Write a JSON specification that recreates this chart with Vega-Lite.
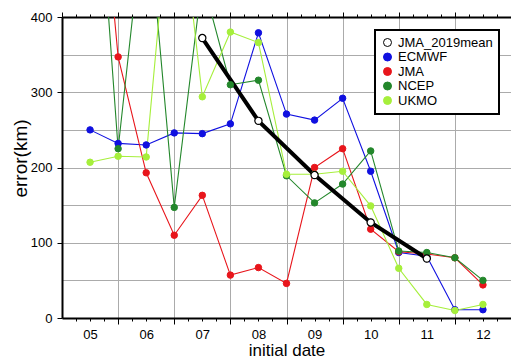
{
  "$schema": "https://vega.github.io/schema/vega-lite/v6.json",
  "width": 449,
  "height": 301,
  "autosize": {"type": "none"},
  "padding": {"left": 62, "top": 17, "right": 0, "bottom": 40},
  "background": "white",
  "data": {"values": [
    {"series": "ECMWF", "x": 5, "v": 250}, {"series": "ECMWF", "x": 5.5, "v": 232}, {"series": "ECMWF", "x": 6, "v": 230},
    {"series": "ECMWF", "x": 6.5, "v": 246}, {"series": "ECMWF", "x": 7, "v": 245}, {"series": "ECMWF", "x": 7.5, "v": 258},
    {"series": "ECMWF", "x": 8, "v": 379}, {"series": "ECMWF", "x": 8.5, "v": 271}, {"series": "ECMWF", "x": 9, "v": 263},
    {"series": "ECMWF", "x": 9.5, "v": 292}, {"series": "ECMWF", "x": 10, "v": 195}, {"series": "ECMWF", "x": 10.5, "v": 87},
    {"series": "ECMWF", "x": 11, "v": 82}, {"series": "ECMWF", "x": 11.5, "v": 11}, {"series": "ECMWF", "x": 12, "v": 11},
    {"series": "JMA", "x": 5, "v": 750}, {"series": "JMA", "x": 5.5, "v": 347}, {"series": "JMA", "x": 6, "v": 193},
    {"series": "JMA", "x": 6.5, "v": 110}, {"series": "JMA", "x": 7, "v": 163}, {"series": "JMA", "x": 7.5, "v": 57},
    {"series": "JMA", "x": 8, "v": 67}, {"series": "JMA", "x": 8.5, "v": 46}, {"series": "JMA", "x": 9, "v": 200},
    {"series": "JMA", "x": 9.5, "v": 225}, {"series": "JMA", "x": 10, "v": 118}, {"series": "JMA", "x": 10.5, "v": 88},
    {"series": "JMA", "x": 11, "v": 85}, {"series": "JMA", "x": 11.5, "v": 80}, {"series": "JMA", "x": 12, "v": 44},
    {"series": "NCEP", "x": 5, "v": 740}, {"series": "NCEP", "x": 5.5, "v": 225}, {"series": "NCEP", "x": 6, "v": 565},
    {"series": "NCEP", "x": 6.5, "v": 147}, {"series": "NCEP", "x": 7, "v": 450}, {"series": "NCEP", "x": 7.5, "v": 310},
    {"series": "NCEP", "x": 8, "v": 316}, {"series": "NCEP", "x": 8.5, "v": 189}, {"series": "NCEP", "x": 9, "v": 153},
    {"series": "NCEP", "x": 9.5, "v": 178}, {"series": "NCEP", "x": 10, "v": 222}, {"series": "NCEP", "x": 10.5, "v": 89},
    {"series": "NCEP", "x": 11, "v": 87}, {"series": "NCEP", "x": 11.5, "v": 80}, {"series": "NCEP", "x": 12, "v": 50},
    {"series": "UKMO", "x": 5, "v": 207}, {"series": "UKMO", "x": 5.5, "v": 215}, {"series": "UKMO", "x": 6, "v": 214},
    {"series": "UKMO", "x": 6.5, "v": 620}, {"series": "UKMO", "x": 7, "v": 294}, {"series": "UKMO", "x": 7.5, "v": 380},
    {"series": "UKMO", "x": 8, "v": 366}, {"series": "UKMO", "x": 8.5, "v": 191}, {"series": "UKMO", "x": 9, "v": 191},
    {"series": "UKMO", "x": 9.5, "v": 195}, {"series": "UKMO", "x": 10, "v": 149}, {"series": "UKMO", "x": 10.5, "v": 66},
    {"series": "UKMO", "x": 11, "v": 18}, {"series": "UKMO", "x": 11.5, "v": 10}, {"series": "UKMO", "x": 12, "v": 18},
    {"series": "JMA_2019mean", "x": 7, "v": 372}, {"series": "JMA_2019mean", "x": 8, "v": 262},
    {"series": "JMA_2019mean", "x": 9, "v": 190}, {"series": "JMA_2019mean", "x": 10, "v": 127},
    {"series": "JMA_2019mean", "x": 11, "v": 79}
  ]},
  "resolve": {"axis": {"x": "independent", "y": "independent"}},
  "layer": [
    {
      "transform": [{"filter": "datum.series === 'ECMWF' || datum.series === 'JMA'"}],
      "mark": {"type": "line", "strokeWidth": 1.1, "clip": true},
      "encoding": {
        "x": {"field": "x", "type": "quantitative", "scale": {"domain": [4.5, 12.5], "nice": false, "zero": false},
          "axis": {"orient": "bottom", "values": [5.5, 6.5, 7.5, 8.5, 9.5, 10.5, 11.5, 12.5], "grid": true, "gridColor": "#ababab", "gridWidth": 1,
            "tickSize": 6, "tickColor": "black", "labels": false, "domain": true, "domainColor": "black", "domainWidth": 2,
            "title": "initial date", "titleFontSize": 17, "titleFontWeight": "normal", "titleColor": "black", "titleBaseline": "alphabetic", "titleY": 37}},
        "y": {"field": "v", "type": "quantitative", "scale": {"domain": [0, 400], "nice": false},
          "axis": {"values": [0, 100, 200, 300, 400], "grid": false, "tickSize": 5, "tickColor": "black", "labelFontSize": 13, "labelColor": "black",
            "labelPadding": 5, "domain": true, "domainColor": "black", "domainWidth": 2,
            "title": "error(km)", "titleFontSize": 19, "titleFontWeight": "normal", "titleColor": "black", "titleBaseline": "middle", "titleX": -42, "titleY": 141}},
        "color": {"field": "series", "type": "nominal",
          "scale": {"domain": ["ECMWF", "JMA", "NCEP", "UKMO"], "range": ["#1010e0", "#e8151b", "#23872b", "#a6ef3b"]},
          "legend": null}
      }
    },
    {
      "transform": [{"filter": "datum.series === 'NCEP' || datum.series === 'UKMO'"}],
      "mark": {"type": "line", "strokeWidth": 1.1, "clip": true},
      "encoding": {
        "x": {"field": "x", "type": "quantitative",
          "axis": {"orient": "top", "values": [4.75, 5, 5.25, 5.75, 6, 6.25, 6.75, 7, 7.25, 7.75, 8, 8.25, 8.75, 9, 9.25, 9.75, 10, 10.25, 10.75, 11, 11.25, 11.75, 12, 12.25],
            "grid": false, "tickSize": 3, "tickColor": "black", "labels": false, "domain": false, "title": null}},
        "y": {"field": "v", "type": "quantitative",
          "axis": {"values": [0, 50, 100, 150, 200, 250, 300, 350, 400], "grid": true, "gridColor": "#ababab", "gridWidth": 1, "ticks": false, "labels": false, "domain": false, "title": null}},
        "color": {"field": "series", "type": "nominal", "legend": null}
      }
    },
    {
      "transform": [{"filter": "datum.series === 'JMA_2019mean'"}],
      "mark": {"type": "line", "strokeWidth": 4, "stroke": "black", "clip": true},
      "encoding": {
        "x": {"field": "x", "type": "quantitative",
          "axis": {"orient": "bottom", "values": [4.75, 5, 5.25, 5.75, 6, 6.25, 6.75, 7, 7.25, 7.75, 8, 8.25, 8.75, 9, 9.25, 9.75, 10, 10.25, 10.75, 11, 11.25, 11.75, 12, 12.25],
            "grid": false, "tickSize": 3, "tickColor": "black", "labels": false, "domain": false, "title": null}},
        "y": {"field": "v", "type": "quantitative", "axis": null}
      }
    },
    {
      "mark": {"type": "point", "filled": true, "size": 42, "strokeWidth": 1, "opacity": 1, "clip": true},
      "encoding": {
        "x": {"field": "x", "type": "quantitative",
          "axis": {"orient": "bottom", "values": [5, 6, 7, 8, 9, 10, 11, 12], "format": "02d", "ticks": false, "tickSize": 0, "labelFontSize": 13, "labelColor": "black",
            "labelBaseline": "alphabetic", "labelPadding": 20, "domain": false, "grid": false, "title": null}},
        "y": {"field": "v", "type": "quantitative", "axis": null},
        "fill": {"field": "series", "type": "nominal",
          "scale": {"domain": ["JMA_2019mean", "ECMWF", "JMA", "NCEP", "UKMO"], "range": ["#ffffff", "#1010e0", "#e8151b", "#23872b", "#a6ef3b"]},
          "legend": {"title": null, "orient": "none", "legendX": 313, "legendY": 13, "symbolType": "circle", "symbolSize": 64, "symbolStrokeWidth": 1,
            "labelFontSize": 13, "labelColor": "black", "labelOffset": 4, "padding": 6, "rowPadding": 0.5, "strokeColor": "black", "fillColor": "white"}},
        "stroke": {"field": "series", "type": "nominal",
          "scale": {"domain": ["JMA_2019mean", "ECMWF", "JMA", "NCEP", "UKMO"], "range": ["#000000", "#1010e0", "#e8151b", "#23872b", "#a6ef3b"]},
          "legend": {"title": null, "orient": "none", "legendX": 313, "legendY": 13, "symbolType": "circle", "symbolSize": 64, "symbolStrokeWidth": 1,
            "labelFontSize": 13, "labelColor": "black", "labelOffset": 4, "padding": 6, "rowPadding": 0.5, "strokeColor": "black", "fillColor": "white"}}
      }
    },
    {
      "transform": [{"filter": "datum.series === 'JMA_2019mean'"}],
      "mark": {"type": "point", "filled": true, "size": 52, "strokeWidth": 1.2, "fill": "white", "stroke": "black", "opacity": 1, "clip": true},
      "encoding": {
        "x": {"field": "x", "type": "quantitative",
          "axis": {"orient": "top", "values": [4.5, 5.5, 6.5, 7.5, 8.5, 9.5, 10.5, 11.5, 12.5], "grid": false, "tickSize": 5, "tickColor": "black",
            "labels": false, "domain": true, "domainColor": "black", "domainWidth": 2, "title": null}},
        "y": {"field": "v", "type": "quantitative", "axis": null}
      }
    }
  ],
  "config": {
    "font": "Liberation Sans",
    "view": {"stroke": null},
    "legend": {"strokeWidth": 2}
  }
}
